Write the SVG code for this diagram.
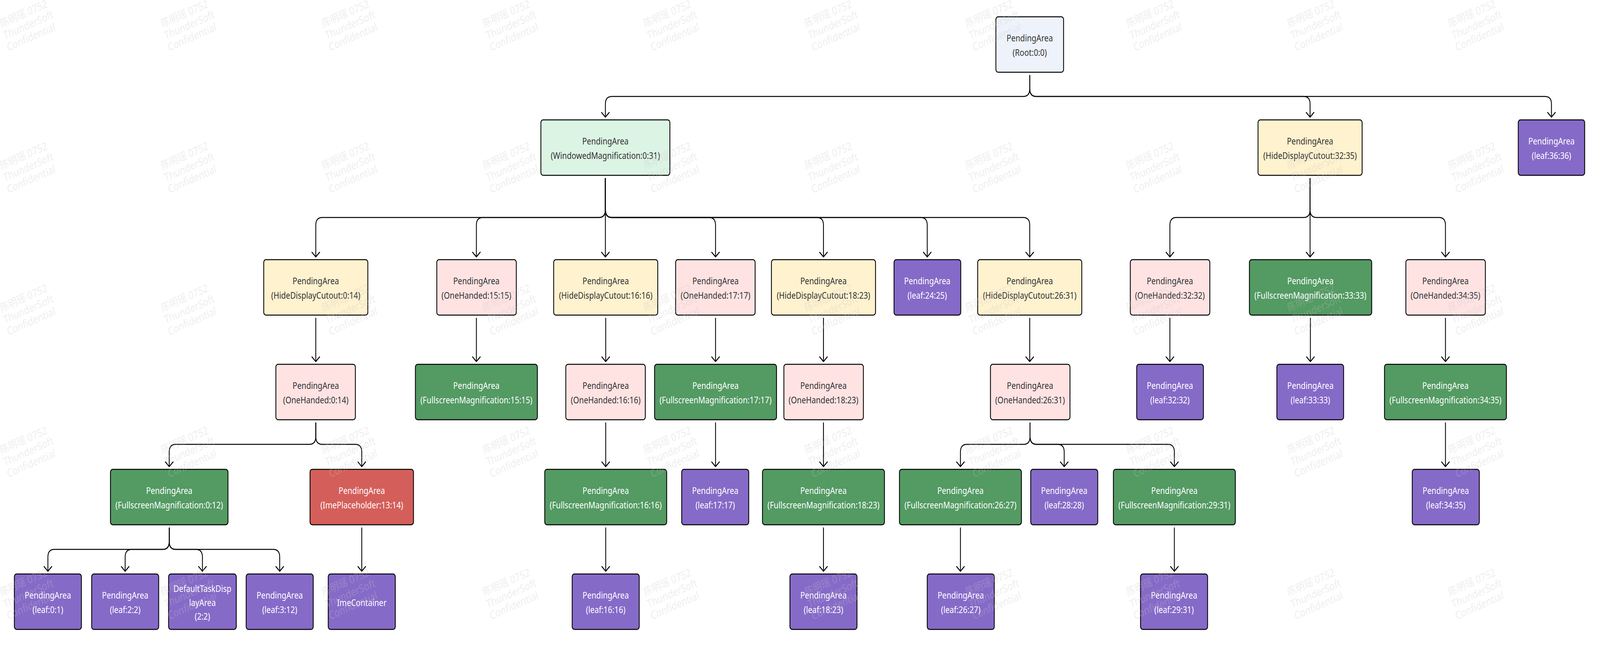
<svg xmlns="http://www.w3.org/2000/svg" width="5011" height="1657" viewBox="0 0 5011 1657" preserveAspectRatio="none">
<style>
svg{width:100%;height:100%}
.node rect{stroke:#000;stroke-width:2.6}
.t{font-family:"Noto Sans","Open Sans","DejaVu Sans",sans-serif;font-size:24px;text-anchor:middle}
.dk{fill:#333}
.lt{fill:#fff}
.root{fill:#eef2fb}
.wmg{fill:#dcf4e4}
.hdc{fill:#fff2cf}
.oh{fill:#ffe3e3}
.leaf{fill:#866ac8}
.fm{fill:#539a63}
.ime{fill:#d45f5a}
.e{fill:none;stroke:#000;stroke-width:2.6;marker-end:url(#arr)}
.wm text{font-family:"Noto Sans","Noto Sans CJK SC",sans-serif;font-size:28px;fill:#c4c4c4;fill-opacity:0.3}
</style>
<defs>
<marker id="arr" markerUnits="userSpaceOnUse" viewBox="-16 -16 32 32" markerWidth="32" markerHeight="32" refX="0" refY="0" orient="auto">
<path d="M-12,-12 L0,0 L-12,12" fill="none" stroke="#000" stroke-width="2.6" stroke-linecap="round" stroke-linejoin="round"/>
</marker>
<pattern id="wmp" patternUnits="userSpaceOnUse" x="0" y="0" width="504" height="364">
<g class="wm" transform="translate(4,71) rotate(-20)">
<text x="0" y="0">陈明瑶 0752</text>
<text x="0" y="32">ThunderSoft</text>
<text x="0" y="64">Confidential</text>
</g>
</pattern>
</defs>
<rect x="0" y="0" width="5011" height="1657" fill="#fff"/>

<g id="edges">
<path class="e" d="M3225,192 V227 Q3225,247 3205,247 H1916 Q1896,247 1896,267 V300"/>
<path class="e" d="M3225,192 V227 Q3225,247 3245,247 H4083 Q4103,247 4103,267 V300"/>
<path class="e" d="M3225,192 V227 Q3225,247 3245,247 H4839 Q4859,247 4859,267 V300"/>
<path class="e" d="M1896,456 V537 Q1896,557 1876,557 H1009 Q989,557 989,577 V658"/>
<path class="e" d="M1896,456 V537 Q1896,557 1876,557 H1512 Q1492,557 1492,577 V658"/>
<path class="e" d="M1896,456 V658"/>
<path class="e" d="M1896,456 V537 Q1896,557 1916,557 H2221 Q2241,557 2241,577 V658"/>
<path class="e" d="M1896,456 V537 Q1896,557 1916,557 H2559 Q2579,557 2579,577 V658"/>
<path class="e" d="M1896,456 V537 Q1896,557 1916,557 H2884 Q2904,557 2904,577 V658"/>
<path class="e" d="M1896,456 V537 Q1896,557 1916,557 H3205 Q3225,557 3225,577 V658"/>
<path class="e" d="M4103,456 V537 Q4103,557 4083,557 H3684 Q3664,557 3664,577 V658"/>
<path class="e" d="M4103,456 V658"/>
<path class="e" d="M4103,456 V537 Q4103,557 4123,557 H4507 Q4527,557 4527,577 V658"/>
<path class="e" d="M989,814 V926"/>
<path class="e" d="M1492,814 V926"/>
<path class="e" d="M1897,814 V926"/>
<path class="e" d="M2241,814 V926"/>
<path class="e" d="M2579,814 V926"/>
<path class="e" d="M3225,814 V926"/>
<path class="e" d="M3664,814 V926"/>
<path class="e" d="M4104,814 V926"/>
<path class="e" d="M4527,814 V926"/>
<path class="e" d="M989,1082 V1118 Q989,1138 969,1138 H550 Q530,1138 530,1158 V1195"/>
<path class="e" d="M989,1082 V1118 Q989,1138 1009,1138 H1113 Q1133,1138 1133,1158 V1195"/>
<path class="e" d="M1897,1082 V1195"/>
<path class="e" d="M2241,1082 V1195"/>
<path class="e" d="M2579,1082 V1195"/>
<path class="e" d="M3226,1082 V1118 Q3226,1138 3206,1138 H3028 Q3008,1138 3008,1158 V1195"/>
<path class="e" d="M3226,1082 V1118 Q3226,1138 3246,1138 H3313 Q3333,1138 3333,1158 V1195"/>
<path class="e" d="M3226,1082 V1118 Q3226,1138 3246,1138 H3658 Q3678,1138 3678,1158 V1195"/>
<path class="e" d="M4527,1082 V1195"/>
<path class="e" d="M530,1351 V1387 Q530,1407 510,1407 H170 Q150,1407 150,1427 V1463"/>
<path class="e" d="M530,1351 V1387 Q530,1407 510,1407 H412 Q392,1407 392,1427 V1463"/>
<path class="e" d="M530,1351 V1387 Q530,1407 550,1407 H614 Q634,1407 634,1427 V1463"/>
<path class="e" d="M530,1351 V1387 Q530,1407 550,1407 H856 Q876,1407 876,1427 V1463"/>
<path class="e" d="M1133,1351 V1463"/>
<path class="e" d="M1897,1351 V1463"/>
<path class="e" d="M2579,1351 V1463"/>
<path class="e" d="M3008,1351 V1463"/>
<path class="e" d="M3678,1351 V1463"/>
</g>

<g id="nodes">
<g id="n-root" class="node"><rect class="root" x="3119" y="43" width="212" height="142" rx="7"/><text class="t dk" x="3225" y="106">PendingArea</text><text class="t dk" x="3225" y="143">(Root:0:0)</text></g>

<g id="n-wm" class="node"><rect class="wmg" x="1694" y="307" width="404" height="142" rx="7"/><text class="t dk" x="1896" y="370">PendingArea</text><text class="t dk" x="1896" y="407">(WindowedMagnification:0:31)</text></g>
<g id="n-hdc32" class="node"><rect class="hdc" x="3940" y="307" width="326" height="142" rx="7"/><text class="t dk" x="4103" y="370">PendingArea</text><text class="t dk" x="4103" y="407">(HideDisplayCutout:32:35)</text></g>
<g id="n-leaf36" class="node"><rect class="leaf" x="4755" y="307" width="208" height="142" rx="7"/><text class="t lt" x="4859" y="370">PendingArea</text><text class="t lt" x="4859" y="407">(leaf:36:36)</text></g>

<g id="n-hdc0" class="node"><rect class="hdc" x="826" y="665" width="326" height="142" rx="7"/><text class="t dk" x="989" y="728">PendingArea</text><text class="t dk" x="989" y="765">(HideDisplayCutout:0:14)</text></g>
<g id="n-oh15" class="node"><rect class="oh" x="1368" y="665" width="249" height="142" rx="7"/><text class="t dk" x="1492" y="728">PendingArea</text><text class="t dk" x="1492" y="765">(OneHanded:15:15)</text></g>
<g id="n-hdc16" class="node"><rect class="hdc" x="1734" y="665" width="326" height="142" rx="7"/><text class="t dk" x="1897" y="728">PendingArea</text><text class="t dk" x="1897" y="765">(HideDisplayCutout:16:16)</text></g>
<g id="n-oh17" class="node"><rect class="oh" x="2116" y="665" width="249" height="142" rx="7"/><text class="t dk" x="2241" y="728">PendingArea</text><text class="t dk" x="2241" y="765">(OneHanded:17:17)</text></g>
<g id="n-hdc18" class="node"><rect class="hdc" x="2416" y="665" width="326" height="142" rx="7"/><text class="t dk" x="2579" y="728">PendingArea</text><text class="t dk" x="2579" y="765">(HideDisplayCutout:18:23)</text></g>
<g id="n-leaf24" class="node"><rect class="leaf" x="2800" y="665" width="209" height="142" rx="7"/><text class="t lt" x="2904" y="728">PendingArea</text><text class="t lt" x="2904" y="765">(leaf:24:25)</text></g>
<g id="n-hdc26" class="node"><rect class="hdc" x="3062" y="665" width="326" height="142" rx="7"/><text class="t dk" x="3225" y="728">PendingArea</text><text class="t dk" x="3225" y="765">(HideDisplayCutout:26:31)</text></g>
<g id="n-oh32" class="node"><rect class="oh" x="3540" y="665" width="249" height="142" rx="7"/><text class="t dk" x="3664" y="728">PendingArea</text><text class="t dk" x="3664" y="765">(OneHanded:32:32)</text></g>
<g id="n-fm33" class="node"><rect class="fm" x="3913" y="665" width="383" height="142" rx="7"/><text class="t lt" x="4104" y="728">PendingArea</text><text class="t lt" x="4104" y="765">(FullscreenMagnification:33:33)</text></g>
<g id="n-oh34" class="node"><rect class="oh" x="4403" y="665" width="249" height="142" rx="7"/><text class="t dk" x="4527" y="728">PendingArea</text><text class="t dk" x="4527" y="765">(OneHanded:34:35)</text></g>

<g id="n-oh0" class="node"><rect class="oh" x="864" y="933" width="249" height="142" rx="7"/><text class="t dk" x="989" y="996">PendingArea</text><text class="t dk" x="989" y="1033">(OneHanded:0:14)</text></g>
<g id="n-fm15" class="node"><rect class="fm" x="1301" y="933" width="382" height="142" rx="7"/><text class="t lt" x="1492" y="996">PendingArea</text><text class="t lt" x="1492" y="1033">(FullscreenMagnification:15:15)</text></g>
<g id="n-oh16" class="node"><rect class="oh" x="1772" y="933" width="249" height="142" rx="7"/><text class="t dk" x="1897" y="996">PendingArea</text><text class="t dk" x="1897" y="1033">(OneHanded:16:16)</text></g>
<g id="n-fm17" class="node"><rect class="fm" x="2050" y="933" width="382" height="142" rx="7"/><text class="t lt" x="2241" y="996">PendingArea</text><text class="t lt" x="2241" y="1033">(FullscreenMagnification:17:17)</text></g>
<g id="n-oh18" class="node"><rect class="oh" x="2455" y="933" width="249" height="142" rx="7"/><text class="t dk" x="2579" y="996">PendingArea</text><text class="t dk" x="2579" y="1033">(OneHanded:18:23)</text></g>
<g id="n-oh26" class="node"><rect class="oh" x="3102" y="933" width="249" height="142" rx="7"/><text class="t dk" x="3226" y="996">PendingArea</text><text class="t dk" x="3226" y="1033">(OneHanded:26:31)</text></g>
<g id="n-leaf32" class="node"><rect class="leaf" x="3560" y="933" width="209" height="142" rx="7"/><text class="t lt" x="3664" y="996">PendingArea</text><text class="t lt" x="3664" y="1033">(leaf:32:32)</text></g>
<g id="n-leaf33" class="node"><rect class="leaf" x="3999" y="933" width="209" height="142" rx="7"/><text class="t lt" x="4104" y="996">PendingArea</text><text class="t lt" x="4104" y="1033">(leaf:33:33)</text></g>
<g id="n-fm34" class="node"><rect class="fm" x="4336" y="933" width="382" height="142" rx="7"/><text class="t lt" x="4527" y="996">PendingArea</text><text class="t lt" x="4527" y="1033">(FullscreenMagnification:34:35)</text></g>

<g id="n-fm0" class="node"><rect class="fm" x="346" y="1202" width="368" height="142" rx="7"/><text class="t lt" x="530" y="1265">PendingArea</text><text class="t lt" x="530" y="1302">(FullscreenMagnification:0:12)</text></g>
<g id="n-ime" class="node"><rect class="ime" x="971" y="1202" width="324" height="142" rx="7"/><text class="t lt" x="1133" y="1265">PendingArea</text><text class="t lt" x="1133" y="1302">(ImePlaceholder:13:14)</text></g>
<g id="n-fm16" class="node"><rect class="fm" x="1706" y="1202" width="382" height="142" rx="7"/><text class="t lt" x="1897" y="1265">PendingArea</text><text class="t lt" x="1897" y="1302">(FullscreenMagnification:16:16)</text></g>
<g id="n-leaf17" class="node"><rect class="leaf" x="2135" y="1202" width="210" height="142" rx="7"/><text class="t lt" x="2240" y="1265">PendingArea</text><text class="t lt" x="2240" y="1302">(leaf:17:17)</text></g>
<g id="n-fm18" class="node"><rect class="fm" x="2388" y="1202" width="382" height="142" rx="7"/><text class="t lt" x="2579" y="1265">PendingArea</text><text class="t lt" x="2579" y="1302">(FullscreenMagnification:18:23)</text></g>
<g id="n-fm26" class="node"><rect class="fm" x="2817" y="1202" width="382" height="142" rx="7"/><text class="t lt" x="3008" y="1265">PendingArea</text><text class="t lt" x="3008" y="1302">(FullscreenMagnification:26:27)</text></g>
<g id="n-leaf28" class="node"><rect class="leaf" x="3228" y="1202" width="210" height="142" rx="7"/><text class="t lt" x="3333" y="1265">PendingArea</text><text class="t lt" x="3333" y="1302">(leaf:28:28)</text></g>
<g id="n-fm29" class="node"><rect class="fm" x="3487" y="1202" width="382" height="142" rx="7"/><text class="t lt" x="3678" y="1265">PendingArea</text><text class="t lt" x="3678" y="1302">(FullscreenMagnification:29:31)</text></g>
<g id="n-leaf34" class="node"><rect class="leaf" x="4423" y="1202" width="210" height="142" rx="7"/><text class="t lt" x="4528" y="1265">PendingArea</text><text class="t lt" x="4528" y="1302">(leaf:34:35)</text></g>

<g id="n-leaf0" class="node"><rect class="leaf" x="45" y="1470" width="210" height="142" rx="7"/><text class="t lt" x="150" y="1533">PendingArea</text><text class="t lt" x="150" y="1570">(leaf:0:1)</text></g>
<g id="n-leaf2" class="node"><rect class="leaf" x="287" y="1470" width="210" height="142" rx="7"/><text class="t lt" x="392" y="1533">PendingArea</text><text class="t lt" x="392" y="1570">(leaf:2:2)</text></g>
<g id="n-dtda" class="node"><rect class="leaf" x="528" y="1470" width="212" height="142" rx="7"/><text class="t lt" x="634" y="1516">DefaultTaskDisp</text><text class="t lt" x="634" y="1552">layArea</text><text class="t lt" x="634" y="1587">(2:2)</text></g>
<g id="n-leaf3" class="node"><rect class="leaf" x="771" y="1470" width="210" height="142" rx="7"/><text class="t lt" x="876" y="1533">PendingArea</text><text class="t lt" x="876" y="1570">(leaf:3:12)</text></g>
<g id="n-imec" class="node"><rect class="leaf" x="1028" y="1470" width="210" height="142" rx="7"/><text class="t lt" x="1133" y="1552">ImeContainer</text></g>
<g id="n-leaf16" class="node"><rect class="leaf" x="1792" y="1470" width="210" height="142" rx="7"/><text class="t lt" x="1897" y="1533">PendingArea</text><text class="t lt" x="1897" y="1570">(leaf:16:16)</text></g>
<g id="n-leaf18" class="node"><rect class="leaf" x="2474" y="1470" width="210" height="142" rx="7"/><text class="t lt" x="2579" y="1533">PendingArea</text><text class="t lt" x="2579" y="1570">(leaf:18:23)</text></g>
<g id="n-leaf26" class="node"><rect class="leaf" x="2904" y="1470" width="210" height="142" rx="7"/><text class="t lt" x="3009" y="1533">PendingArea</text><text class="t lt" x="3009" y="1570">(leaf:26:27)</text></g>
<g id="n-leaf29" class="node"><rect class="leaf" x="3572" y="1470" width="210" height="142" rx="7"/><text class="t lt" x="3677" y="1533">PendingArea</text><text class="t lt" x="3677" y="1570">(leaf:29:31)</text></g>
</g>

<rect id="watermark" x="0" y="0" width="5011" height="1657" fill="url(#wmp)" pointer-events="none"/>
</svg>
